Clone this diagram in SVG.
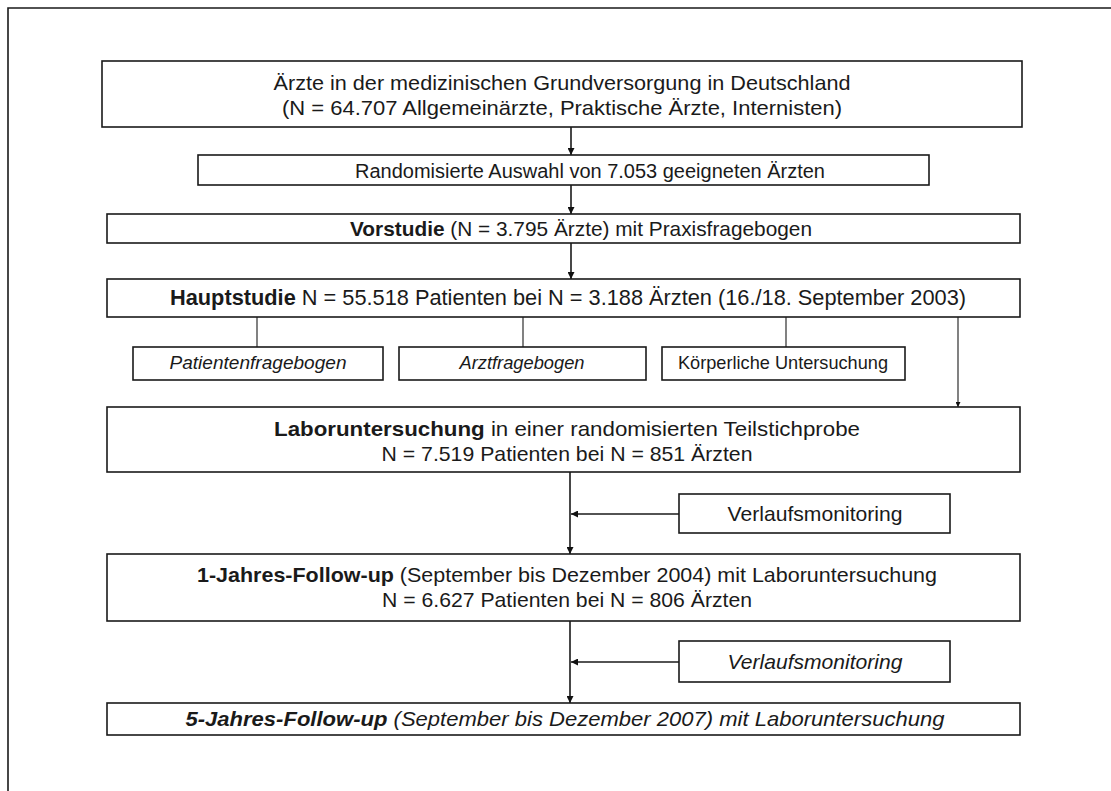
<svg xmlns="http://www.w3.org/2000/svg" width="1111" height="791" viewBox="0 0 1111 791">
<defs>
<marker id="ah" viewBox="0 0 10 10" refX="10" refY="5" markerWidth="7" markerHeight="7" markerUnits="userSpaceOnUse" orient="auto">
<path d="M0,0 L10,5 L0,10 z" fill="#111"/>
</marker>
<marker id="ahs" viewBox="0 0 10 10" refX="10" refY="5" markerWidth="5" markerHeight="5" markerUnits="userSpaceOnUse" orient="auto">
<path d="M0,0 L10,5 L0,10 z" fill="#111"/>
</marker>
</defs>
<style>
.box{fill:#fff;stroke:#1a1a1a;stroke-width:1.6}
.t{font-family:"Liberation Sans",Arial,sans-serif;fill:#1a1a1a;text-anchor:middle}
.b{font-weight:bold}
.i{font-style:italic}
.ln{stroke:#1a1a1a;stroke-width:1.6;fill:none}
.thin{stroke:#1a1a1a;stroke-width:1.1;fill:none}
</style>
<rect width="1111" height="791" fill="#fff"/>
<g id="frame">
<path class="ln" d="M8,791 L8,8 L1111,8"/>
</g>
<g id="connectors">
<path class="ln" d="M571,127 L571,155" marker-end="url(#ah)"/>
<path class="ln" d="M571,185 L571,214" marker-end="url(#ah)"/>
<path class="ln" d="M571,243 L571,279" marker-end="url(#ah)"/>
<path class="thin" d="M257,317 L257,347"/>
<path class="thin" d="M523,317 L523,347"/>
<path class="thin" d="M786,317 L786,347"/>
<path class="thin" d="M958,317 L958,407" marker-end="url(#ahs)"/>
<path class="ln" d="M570,472 L570,554" marker-end="url(#ah)"/>
<path class="ln" d="M679,514 L571,514" marker-end="url(#ah)"/>
<path class="ln" d="M570,621 L570,703" marker-end="url(#ah)"/>
<path class="ln" d="M679,662 L571,662" marker-end="url(#ah)"/>
</g>
<g id="n1">
<rect class="box" x="102" y="61" width="920" height="66"/>
<text class="t" x="562" y="90" font-size="21" textLength="577" lengthAdjust="spacingAndGlyphs">Ärzte in der medizinischen Grundversorgung in Deutschland</text>
<text class="t" x="562" y="115" font-size="21" textLength="560" lengthAdjust="spacingAndGlyphs">(N = 64.707 Allgemeinärzte, Praktische Ärzte, Internisten)</text>
</g>
<g id="n2">
<rect class="box" x="198" y="155" width="731" height="30"/>
<text class="t" x="590" y="178" font-size="20" textLength="470" lengthAdjust="spacingAndGlyphs">Randomisierte Auswahl von 7.053 geeigneten Ärzten</text>
</g>
<g id="n3">
<rect class="box" x="107" y="214" width="913" height="29"/>
<text class="t" x="581" y="236" font-size="21" textLength="462" lengthAdjust="spacingAndGlyphs"><tspan class="b">Vorstudie</tspan> (N = 3.795 Ärzte) mit Praxisfragebogen</text>
</g>
<g id="n4">
<rect class="box" x="107" y="279" width="913" height="38"/>
<text class="t" x="568" y="305" font-size="21.5" textLength="796" lengthAdjust="spacingAndGlyphs"><tspan class="b">Hauptstudie</tspan> N = 55.518 Patienten bei N = 3.188 Ärzten (16./18. September 2003)</text>
</g>
<g id="n5">
<rect class="box" x="133" y="347" width="250" height="33"/>
<text class="t i" x="258" y="369" font-size="18.5" textLength="177" lengthAdjust="spacingAndGlyphs">Patientenfragebogen</text>
</g>
<g id="n6">
<rect class="box" x="399" y="347" width="247" height="33"/>
<text class="t i" x="522" y="369" font-size="18.5" textLength="125" lengthAdjust="spacingAndGlyphs">Arztfragebogen</text>
</g>
<g id="n7">
<rect class="box" x="662" y="347" width="243" height="33"/>
<text class="t" x="783" y="369" font-size="18.5" textLength="210" lengthAdjust="spacingAndGlyphs">Körperliche Untersuchung</text>
</g>
<g id="n8">
<rect class="box" x="107" y="407" width="913" height="65"/>
<text class="t" x="567" y="436" font-size="21" textLength="586" lengthAdjust="spacingAndGlyphs"><tspan class="b">Laboruntersuchung</tspan> in einer randomisierten Teilstichprobe</text>
<text class="t" x="567" y="461" font-size="21" textLength="371" lengthAdjust="spacingAndGlyphs">N = 7.519 Patienten bei N = 851 Ärzten</text>
</g>
<g id="n9">
<rect class="box" x="679" y="494" width="271" height="39"/>
<text class="t" x="815" y="521" font-size="21" textLength="175" lengthAdjust="spacingAndGlyphs">Verlaufsmonitoring</text>
</g>
<g id="n10">
<rect class="box" x="107" y="554" width="913" height="67"/>
<text class="t" x="567" y="582" font-size="21" textLength="740" lengthAdjust="spacingAndGlyphs"><tspan class="b">1-Jahres-Follow-up</tspan> (September bis Dezember 2004) mit Laboruntersuchung</text>
<text class="t" x="567" y="607" font-size="21" textLength="370" lengthAdjust="spacingAndGlyphs">N = 6.627 Patienten bei N = 806 Ärzten</text>
</g>
<g id="n11">
<rect class="box" x="679" y="641" width="271" height="41"/>
<text class="t i" x="815" y="669" font-size="21" textLength="175" lengthAdjust="spacingAndGlyphs">Verlaufsmonitoring</text>
</g>
<g id="n12">
<rect class="box" x="107" y="703" width="913" height="32"/>
<text class="t i" x="565" y="726" font-size="21" textLength="759" lengthAdjust="spacingAndGlyphs"><tspan class="b">5-Jahres-Follow-up</tspan> (September bis Dezember 2007) mit Laboruntersuchung</text>
</g>
</svg>
